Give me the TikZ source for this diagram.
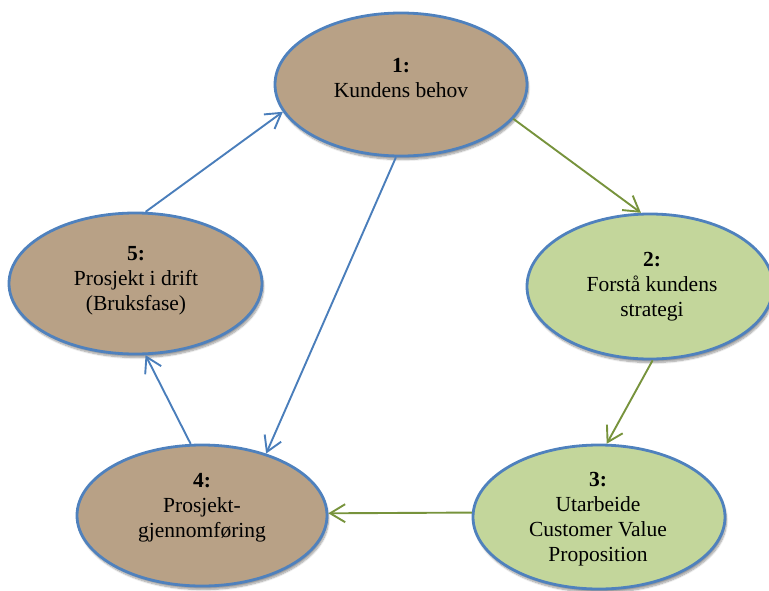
\documentclass[tikz,border=0pt]{standalone}
\usepackage{fontspec}
\setmainfont{Liberation Serif}
\usetikzlibrary{shapes.geometric,arrows.meta,shadows.blur}

\definecolor{rim}{RGB}{79,129,189}
\definecolor{tan}{RGB}{184,161,134}
\definecolor{sage}{RGB}{195,214,155}
\definecolor{olive}{RGB}{119,147,60}
\definecolor{steel}{RGB}{74,126,187}

\tikzset{
  phase/.style={ellipse, draw=rim, line width=2.8pt, inner sep=0pt,
    blur shadow={shadow xshift=1.5pt, shadow yshift=-3.5pt, shadow blur steps=8, shadow opacity=40}},
  done/.style={phase, fill=tan},
  plan/.style={phase, fill=sage},
  caption/.style={align=center, font=\fontsize{21.5}{25}\selectfont},
  link/.style={line width=1.9pt, -{Straight Barb[length=15pt,width=18pt]}},
  bluelink/.style={link, draw=steel},
  greenlink/.style={link, draw=olive}
}

\begin{document}
\begin{tikzpicture}[x=1pt, y=-1pt]
  \useasboundingbox (0,0) rectangle (769,590);
  \clip (0,0) rectangle (769,590);

  % phases of the cycle
  \node[done, minimum width=252pt, minimum height=143pt] (e1) at (401,84.5) {};
  \node[plan, minimum width=246pt, minimum height=145pt] (e2) at (650,286.5) {};
  \node[plan, minimum width=252pt, minimum height=144pt] (e3) at (599,517) {};
  \node[done, minimum width=250pt, minimum height=141pt] (e4) at (202,515.5) {};
  \node[done, minimum width=253pt, minimum height=141pt] (e5) at (135.5,283.5) {};

  % texts
  \node[caption] (t1) at (401,78) {\textbf{1:}\\Kundens behov};
  \node[caption] (t2) at (652,287) {\textbf{2:}\\Forstå kundens\\strategi};
  \node[caption] (t3) at (598,519) {\textbf{3:}\\Utarbeide\\Customer Value\\Proposition};
  \node[caption] (t4) at (202,508) {\textbf{4:}\\Prosjekt-\\gjennomføring};
  \node[caption] (t5) at (136,281) {\textbf{5:}\\Prosjekt i drift\\(Bruksfase)};

  % connectors
  \draw[greenlink] (e1.-17) -- (e2.97);
  \draw[greenlink] (e2.-88) -- (e3.84);
  \draw[greenlink] (e3.178) -- (e4.1.5);
  \draw[bluelink] (e4.99.5) -- (e5.-82.6);
  \draw[bluelink] (e5.82) -- (e1.-167.5);
  \draw[bluelink] (e1.-94.6) -- (e4.44.8);
\end{tikzpicture}
\end{document}
